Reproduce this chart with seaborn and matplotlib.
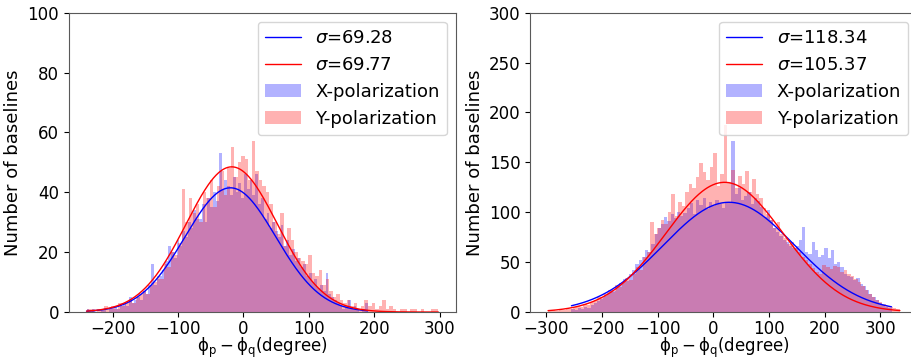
import numpy as np
import pandas as pd
import matplotlib
matplotlib.use("Agg")
import matplotlib.pyplot as plt
import seaborn as sns

# phase difference histograms, counts per bin
# left panel
left_x_range = (-240, 190)
left_x_counts = [1, 0, 1, 0, 0, 1, 1, 0, 1, 1,
                 2, 1, 2, 3, 2, 5, 3, 4, 5, 4,
                 7, 6, 9, 16, 9, 11, 12, 14, 17, 22,
                 20, 18, 24, 22, 27, 25, 30, 28, 34, 31,
                 31, 36, 30, 38, 35, 40, 37, 53, 41, 44,
                 42, 39, 45, 40, 43, 38, 46, 41, 44, 39,
                 46, 36, 38, 31, 33, 28, 30, 27, 25, 29,
                 22, 24, 19, 21, 17, 18, 15, 16, 12, 13,
                 10, 11, 8, 9, 7, 13, 6, 5, 4, 3,
                 2, 1, 2, 4, 1, 2, 1, 0, 1, 3]
left_y_range = (-240, 298)
left_y_counts = [1, 1, 0, 1, 1, 2, 1, 2, 1, 3,
                 2, 3, 4, 3, 5, 6, 7, 6, 9, 10,
                 12, 11, 16, 15, 20, 19, 23, 41, 30, 38,
                 33, 36, 30, 40, 38, 44, 35, 42, 47, 39,
                 48, 55, 45, 50, 52, 51, 44, 57, 47, 44,
                 42, 40, 36, 30, 26, 33, 22, 28, 24, 20,
                 18, 17, 16, 19, 13, 12, 14, 9, 11, 7,
                 5, 6, 4, 3, 4, 2, 3, 1, 2, 4,
                 2, 3, 1, 2, 4, 1, 2, 1, 0, 1,
                 1, 0, 1, 1, 0, 1, 0, 0, 1, 1]

# right panel
right_x_range = (-255, 320)
right_x_counts = [3, 2, 4, 3, 5, 4, 7, 9, 11, 13,
                  16, 19, 22, 21, 26, 29, 33, 31, 38, 42,
                  48, 52, 55, 62, 60, 68, 78, 84, 88, 95,
                  91, 98, 94, 100, 96, 99, 104, 109, 98, 112,
                  107, 114, 103, 110, 106, 112, 108, 104, 110, 109,
                  171, 118, 124, 112, 116, 120, 108, 114, 111, 105,
                  95, 102, 92, 84, 80, 76, 72, 70, 66, 64,
                  66, 72, 85, 60, 58, 70, 62, 55, 57, 64,
                  54, 62, 48, 50, 45, 38, 36, 35, 32, 34,
                  28, 26, 22, 18, 15, 12, 9, 7, 5, 4]
right_y_range = (-297, 335)
right_y_counts = [1, 2, 1, 3, 2, 4, 3, 5, 6, 5,
                  8, 7, 10, 12, 15, 14, 18, 22, 20, 27,
                  25, 30, 34, 32, 38, 45, 42, 55, 60, 90,
                  78, 84, 92, 88, 100, 118, 96, 110, 106, 120,
                  128, 124, 135, 149, 140, 132, 145, 159, 126, 138,
                  187, 130, 142, 124, 136, 128, 141, 120, 133, 118,
                  114, 104, 98, 92, 84, 90, 78, 74, 68, 70,
                  64, 60, 55, 52, 48, 44, 40, 38, 47, 45,
                  43, 46, 45, 40, 42, 38, 36, 33, 30, 26,
                  22, 18, 15, 12, 10, 8, 6, 5, 4, 3]

# gaussian fits: peak height and centre, sigma from the legend
left_x_fit = (41.5, -20, "69.28")
left_y_fit = (48.5, -18, "69.77")
right_x_fit = (110, 28, "118.34")
right_y_fit = (130, 20, "105.37")


def draw_panel(ax, x_range, x_counts, x_fit, y_range, y_counts, y_fit, ymax, ystep):
    for rng, counts, fit, color, label in [
            (x_range, x_counts, x_fit, "blue", "X-polarization"),
            (y_range, y_counts, y_fit, "red", "Y-polarization")]:
        nbins = len(counts)
        width = (rng[1] - rng[0]) / nbins
        df = pd.DataFrame({"phase": rng[0] + width * (np.arange(nbins) + 0.5),
                           "n": counts})
        sns.histplot(data=df, x="phase", weights="n", bins=nbins, binrange=rng,
                     color=color, alpha=0.3, linewidth=0, label=label, ax=ax)
        amp, mu, sig = fit
        xs = np.linspace(rng[0], rng[1], 400)
        ys = amp * np.exp(-0.5 * ((xs - mu) / float(sig)) ** 2)
        sns.lineplot(x=xs, y=ys, color=color, linewidth=1,
                     label=r"$\sigma$=" + sig, ax=ax)

    ax.set_ylim(0, ymax)
    ax.set_yticks(np.arange(0, ymax + 1, ystep))
    ax.set_xlabel(r"$\mathrm{\phi_p-\phi_q}$(degree)", fontsize=12, labelpad=-1)
    ax.set_ylabel("Number of baselines", fontsize=13)
    ax.tick_params(labelsize=12)
    ax.tick_params(axis="x", pad=2)
    # lines first, then the bars, like the original legend
    h, l = ax.get_legend_handles_labels()
    idx = [i for i in range(len(l)) if l[i].startswith("$")]
    idx += [i for i in range(len(l)) if not l[i].startswith("$")]
    ax.legend([h[i] for i in idx], [l[i] for i in idx],
              loc="upper right", fontsize=13)


sns.set_style("ticks", {"axes.edgecolor": "0.35", "text.color": "black",
                        "xtick.color": "black", "ytick.color": "black",
                        "axes.labelcolor": "black"})
plt.rcParams["font.family"] = ["DejaVu Sans"]

fig = plt.figure(figsize=(9.11, 3.62), dpi=100)
ax1 = fig.add_axes([0.0757, 0.138, 0.4248, 0.827])
ax2 = fig.add_axes([0.5823, 0.138, 0.4248, 0.827])

draw_panel(ax1, left_x_range, left_x_counts, left_x_fit,
           left_y_range, left_y_counts, left_y_fit, 100, 20)
draw_panel(ax2, right_x_range, right_x_counts, right_x_fit,
           right_y_range, right_y_counts, right_y_fit, 300, 50)

fig.savefig("out.png", dpi=100)
